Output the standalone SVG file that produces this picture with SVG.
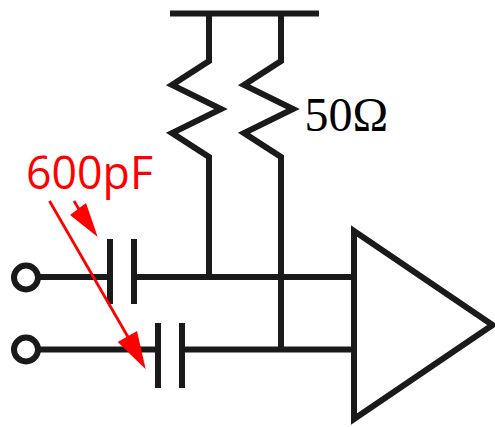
<svg xmlns="http://www.w3.org/2000/svg" width="495" height="427" viewBox="0 0 495 427">
<style>
.w{fill:none;stroke:#1a1a1a;stroke-width:6;stroke-linejoin:miter;stroke-miterlimit:10}
.r{stroke:#ff0000;stroke-width:2.800;fill:none}
.h{fill:#ff0000;stroke:none}
</style>
<rect width="495" height="427" fill="#ffffff"/>
<g id="connectors">
<path class="w" d="M209 13V61L172 85L221 109L172 133L209 157V277"/>
<path class="w" d="M281 13V61L244 85L293 109L244 133L281 157V349"/>
<path class="w" d="M38 277H111M134 277H354"/>
<path class="w" d="M38 349.500H158M182 349.500H354"/>
</g>
<g id="rail"><path class="w" d="M170 13.500H319"/></g>
<g id="in1"><circle class="w" cx="26" cy="277.500" r="12"/></g>
<g id="in2"><circle class="w" cx="26" cy="349.500" r="12"/></g>
<g id="c1"><path class="w" d="M110 239V304M134 239V304"/></g>
<g id="c2"><path class="w" d="M158 323V388M182 323V388"/></g>
<g id="amp"><path class="w" d="M354 231L492.500 325L354 419Z"/></g>
<g id="label-50"><text x="304.500" y="130.500" font-size="48" font-family="'Liberation Serif',serif" fill="#000000">50Ω</text></g>
<g id="label-600"><text x="26" y="188.500" font-size="46" font-family="'Open Sans','Liberation Sans',sans-serif" fill="#ff0000" textLength="127" lengthAdjust="spacingAndGlyphs">600pF</text></g>
<g id="arrows">
<path class="r" d="M74 201L80 211"/><path class="h" d="M70 215L86 203L97.700 237Z"/>
<path class="r" d="M49.500 201L128 337"/><path class="h" d="M117.700 342L137 331L145.700 369.300Z"/>
</g>
</svg>
